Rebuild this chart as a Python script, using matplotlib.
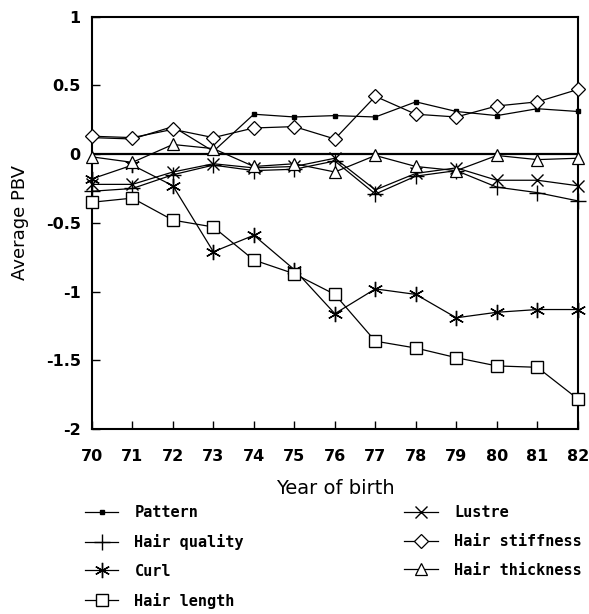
import numpy as np
import matplotlib
matplotlib.use("Agg")
import matplotlib.pyplot as plt

plt.rcParams["axes.unicode_minus"] = False

# values (average PBV per birth year)
years = [70, 71, 72, 73, 74, 75, 76, 77, 78, 79, 80, 81, 82]
pattern = [0.12, 0.11, 0.20, 0.02, 0.29, 0.27, 0.28, 0.27, 0.38, 0.31, 0.28, 0.33, 0.31]
hair_quality = [-0.27, -0.25, -0.15, -0.08, -0.12, -0.11, -0.05, -0.29, -0.16, -0.12, -0.24, -0.28, -0.34]
curl = [-0.18, -0.08, -0.23, -0.71, -0.59, -0.84, -1.16, -0.98, -1.02, -1.19, -1.15, -1.13, -1.13]
hair_length = [-0.35, -0.32, -0.48, -0.53, -0.77, -0.87, -1.02, -1.36, -1.41, -1.48, -1.54, -1.55, -1.78]
lustre = [-0.22, -0.22, -0.13, -0.07, -0.10, -0.09, -0.03, -0.26, -0.14, -0.10, -0.19, -0.19, -0.23]
hair_stiffness = [0.13, 0.12, 0.18, 0.12, 0.19, 0.20, 0.11, 0.42, 0.29, 0.27, 0.35, 0.38, 0.47]
hair_thickness = [-0.02, -0.06, 0.07, 0.04, -0.09, -0.07, -0.13, -0.01, -0.09, -0.12, -0.01, -0.04, -0.03]

y_ticks = [-2, -1.5, -1, -0.5, 0, 0.5, 1]
y_tick_labels = ["-2", "-1.5", "-1", "-0.5", "0", "0.5", "1"]

fig = plt.figure(figsize=(5.89, 6.14), dpi=100)
ax = fig.add_axes([0.156, 0.301, 0.825, 0.672])

ax.axhline(0, color="black", lw=1.6, zorder=1)

# order matters for the 2-column legend (fills column-wise)
series = [
    ("Pattern", pattern, dict(marker="s", ms=3, mfc="black")),
    ("Hair quality", hair_quality, dict(marker="+", ms=11, mew=1.0)),
    ("Curl", curl, dict(marker=(6, 2, 0), ms=11, mew=1.0)),
    ("Hair length", hair_length, dict(marker="s", ms=9, mfc="white", mew=1.0)),
    ("Lustre", lustre, dict(marker="x", ms=8, mew=1.0)),
    ("Hair stiffness", hair_stiffness, dict(marker="D", ms=7, mfc="white", mew=0.9)),
    ("Hair thickness", hair_thickness, dict(marker="^", ms=9, mfc="white", mew=0.9)),
]

for name, vals, style in series:
    ax.plot(years, vals, color="black", lw=0.9, mec="black", label=name,
            clip_on=False, zorder=3, **style)

ax.set_xlim(70, 82)
ax.set_ylim(-2, 1)
ax.set_xticks(years)
ax.set_xticklabels([str(y) for y in years], fontsize=11.5, fontweight="bold")
ax.set_yticks(y_ticks)
ax.set_yticklabels(y_tick_labels, fontsize=11.5, fontweight="bold")
ax.tick_params(direction="in", length=6, width=1.0, pad=8)
ax.tick_params(axis="x", pad=14)
for sp in ax.spines.values():
    sp.set_linewidth(1.5)

ax.set_ylabel("Average PBV", fontsize=13, labelpad=12)
ax.set_xlabel("Year of birth", fontsize=14, labelpad=11)

fig.legend(loc="upper left", bbox_to_anchor=(0.144, 0.177), ncol=2, frameon=False,
           prop={"family": "DejaVu Sans Mono", "weight": "bold", "size": 11},
           handlelength=2.2, handletextpad=1.05, columnspacing=10.5,
           labelspacing=0.9, borderpad=0, borderaxespad=0)

fig.savefig("out.png", dpi=100)
